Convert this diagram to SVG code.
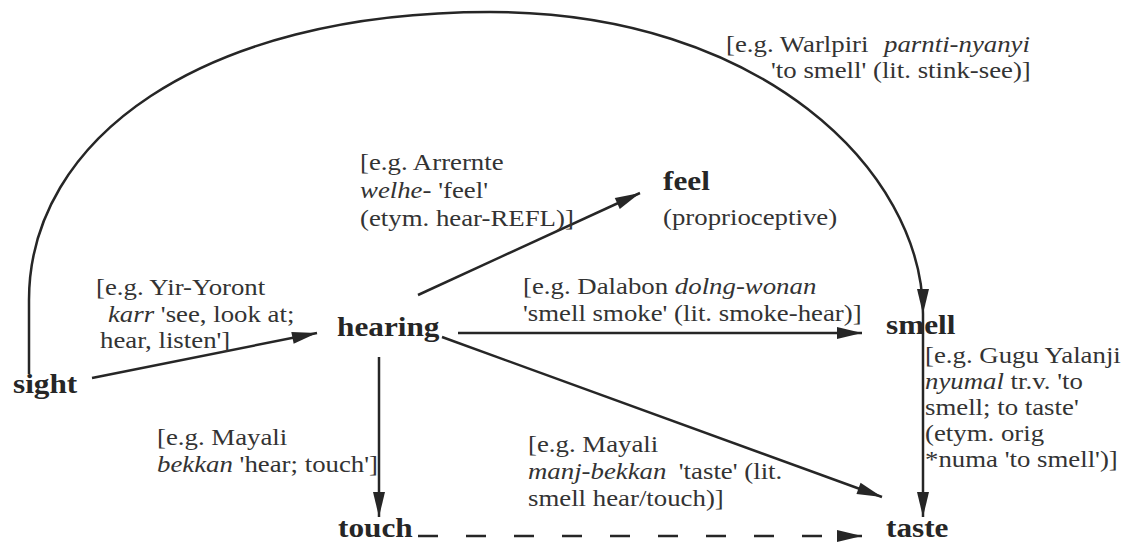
<svg xmlns="http://www.w3.org/2000/svg" width="1133" height="544" viewBox="0 0 1133 544">
<style>
.t{font-family:"Liberation Serif","Times New Roman",serif;font-size:24px;fill:#333}
.b{font-family:"Liberation Serif","Times New Roman",serif;font-size:28px;font-weight:bold;fill:#262626}
.i{font-style:italic}
.ln{stroke:#262626;stroke-width:2.5;fill:none}
.dash{stroke-dasharray:20 28}
</style>
<defs>
<marker id="ah" markerUnits="userSpaceOnUse" markerWidth="26" markerHeight="14" refX="25" refY="6" orient="auto" overflow="visible">
<path d="M0,0 L25,6 L0,12 Z" fill="#262626"/>
</marker>
</defs>
<rect width="1133" height="544" fill="#fff"/>
<g id="connectors">
<path class="ln" d="M29,374 L29,300 C29,140 200,12 490,12 C760,12 923,170 923,314" marker-end="url(#ah)"/>
<path class="ln" d="M92,378 L317,333" marker-end="url(#ah)"/>
<path class="ln" d="M418,295 L640,193" marker-end="url(#ah)"/>
<path class="ln" d="M458,333 L862,333" marker-end="url(#ah)"/>
<path class="ln" d="M442,337 L882,497" marker-end="url(#ah)"/>
<path class="ln" d="M379,357 L379,517" marker-end="url(#ah)"/>
<path class="ln" d="M923,314 L923,517" marker-end="url(#ah)"/>
<path class="ln dash" d="M418,536 L862,536" marker-end="url(#ah)"/>
</g>
<g id="edge-labels">
<text class="t" transform="translate(726,52) scale(1.117,1)"><tspan x="0">[e.g. Warlpiri</tspan><tspan class="i" x="141.5">parnti-nyanyi</tspan><tspan x="40.3" dy="26">'to smell' (lit. stink-see)]</tspan></text>
<text class="t" transform="translate(360,170) scale(1.117,1)"><tspan x="0">[e.g. Arrernte</tspan><tspan x="0" dy="28"><tspan class="i">welhe-</tspan> 'feel'</tspan><tspan x="0" dy="28">(etym. hear-REFL)]</tspan></text>
<text class="t" transform="translate(96,295) scale(1.117,1)"><tspan x="0">[e.g. Yir-Yoront</tspan><tspan x="10.7" dy="27"><tspan class="i">karr</tspan> 'see, look at;</tspan><tspan x="3.6" dy="26">hear, listen']</tspan></text>
<text class="t" transform="translate(523,294) scale(1.117,1)"><tspan x="0">[e.g. Dalabon <tspan class="i">dolng-wonan</tspan></tspan><tspan x="0" dy="27">'smell smoke' (lit. smoke-hear)]</tspan></text>
<text class="t" transform="translate(157,445) scale(1.117,1)"><tspan x="0">[e.g. Mayali</tspan><tspan x="0" dy="27"><tspan class="i">bekkan</tspan> 'hear; touch']</tspan></text>
<text class="t" transform="translate(528,452) scale(1.117,1)"><tspan x="0">[e.g. Mayali</tspan><tspan class="i" x="0" dy="27">manj-bekkan</tspan><tspan x="135">'taste' (lit.</tspan><tspan x="0" dy="27">smell hear/touch)]</tspan></text>
<text class="t" transform="translate(925,363) scale(1.117,1)"><tspan x="0">[e.g. Gugu Yalanji</tspan><tspan x="0" dy="26"><tspan class="i">nyumal</tspan> tr.v. 'to</tspan><tspan x="0" dy="26">smell; to taste'</tspan><tspan x="0" dy="26">(etym. orig</tspan><tspan x="0" dy="26">*numa 'to smell')]</tspan></text>
</g>
<g id="sight"><text class="b" transform="translate(13,393) scale(1.117,1)">sight</text></g>
<g id="hearing"><text class="b" transform="translate(337,336) scale(1.117,1)">hearing</text></g>
<g id="feel"><text class="b" transform="translate(663,190) scale(1.117,1)">feel</text><text class="t" transform="translate(663,225) scale(1.117,1)">(proprioceptive)</text></g>
<g id="smell"><text class="b" transform="translate(886,334) scale(1.117,1)">smell</text></g>
<g id="touch"><text class="b" transform="translate(338,537) scale(1.117,1)">touch</text></g>
<g id="taste"><text class="b" transform="translate(886,537) scale(1.117,1)">taste</text></g>
</svg>
